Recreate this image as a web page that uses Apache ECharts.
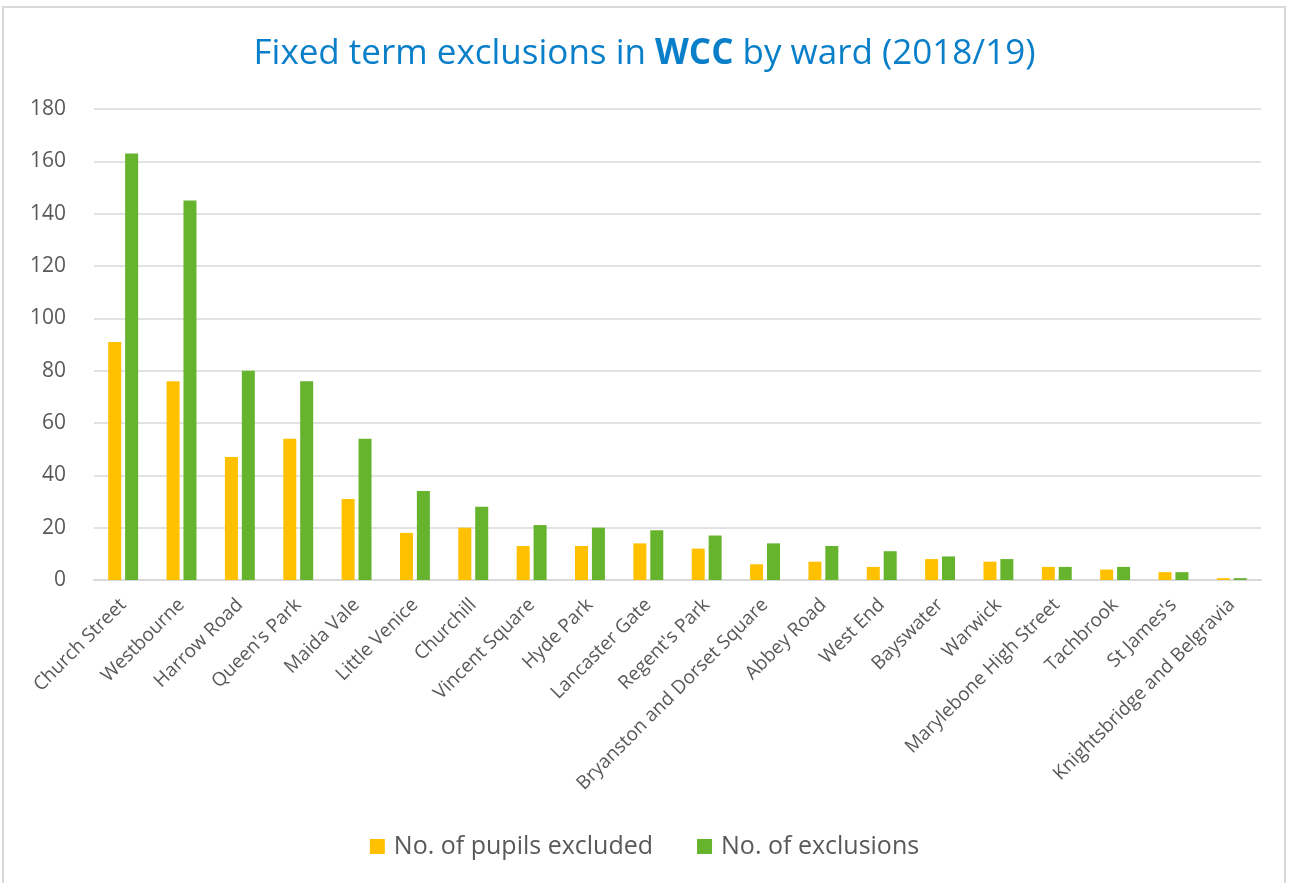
<!DOCTYPE html>
<html>
<head>
<meta charset="utf-8">
<script src="https://cdn.jsdelivr.net/npm/echarts@6/dist/echarts.min.js"></script>
<style>
html,body{margin:0;padding:0;background:#fff;}
#chart{width:1289px;height:883px;}
</style>
</head>
<body>
<div id="chart"></div>
<script>
const wards = ["Church Street","Westbourne","Harrow Road","Queen's Park","Maida Vale","Little Venice","Churchill","Vincent Square","Hyde Park","Lancaster Gate","Regent's Park","Bryanston and Dorset Square","Abbey Road","West End","Bayswater","Warwick","Marylebone High Street","Tachbrook","St James's","Knightsbridge and Belgravia"];
const pupilsExcluded = [91,76,47,54,31,18,20,13,13,14,12,6,7,5,8,7,5,4,3,0.7];
const exclusions = [163,145,80,76,54,34,28,21,20,19,17,14,13,11,9,8,5,5,3,0.7];
const yTicks = {min:0, max:180, interval:20};

const chart = echarts.init(document.getElementById('chart'));
chart.setOption({
  animation:false,
  backgroundColor:'#ffffff',
  graphic:[{type:'rect',shape:{x:3,y:7,width:1282,height:900},style:{fill:'none',stroke:'#d9d9d9',lineWidth:2},silent:true}],
  title:{
    text:'{n|Fixed term exclusions in }{b|WCC}{n| by ward (2018/19)}',
    left:'center', top:32,
    textStyle:{fontWeight:'normal',rich:{
      n:{fontFamily:'Open Sans',fontSize:35,color:'#0a7fc9',fontWeight:'normal'},
      b:{fontFamily:'Open Sans',fontSize:35,color:'#0a7fc9',fontWeight:'bold'}
    }}
  },
  legend:{
    bottom:19, left:'center', itemWidth:15, itemHeight:15, itemGap:44,
    icon:'rect',
    textStyle:{fontFamily:'Open Sans',fontSize:25,color:'#595959',padding:[0,0,0,4]},
    data:['No. of pupils excluded','No. of exclusions']
  },
  grid:{left:94,right:28,top:109,bottom:303},
  xAxis:{
    type:'category', data:wards,
    axisLine:{lineStyle:{color:'#d9d9d9',width:2}},
    axisTick:{show:false},
    axisLabel:{rotate:45,interval:0,fontFamily:'Open Sans',fontSize:19,color:'#595959',margin:22}
  },
  yAxis:{
    type:'value', min:yTicks.min, max:yTicks.max, interval:yTicks.interval,
    axisLine:{show:false}, axisTick:{show:false},
    axisLabel:{fontFamily:'Open Sans',fontSize:21,color:'#595959',margin:28},
    splitLine:{lineStyle:{color:'#d9d9d9',width:1.5}}
  },
  series:[
    {name:'No. of pupils excluded',type:'bar',data:pupilsExcluded,barWidth:13,barGap:'30%',itemStyle:{color:'#ffc000'}},
    {name:'No. of exclusions',type:'bar',data:exclusions,barWidth:13,barGap:'30%',itemStyle:{color:'#66b32e'}}
  ]
});
</script>
</body>
</html>
